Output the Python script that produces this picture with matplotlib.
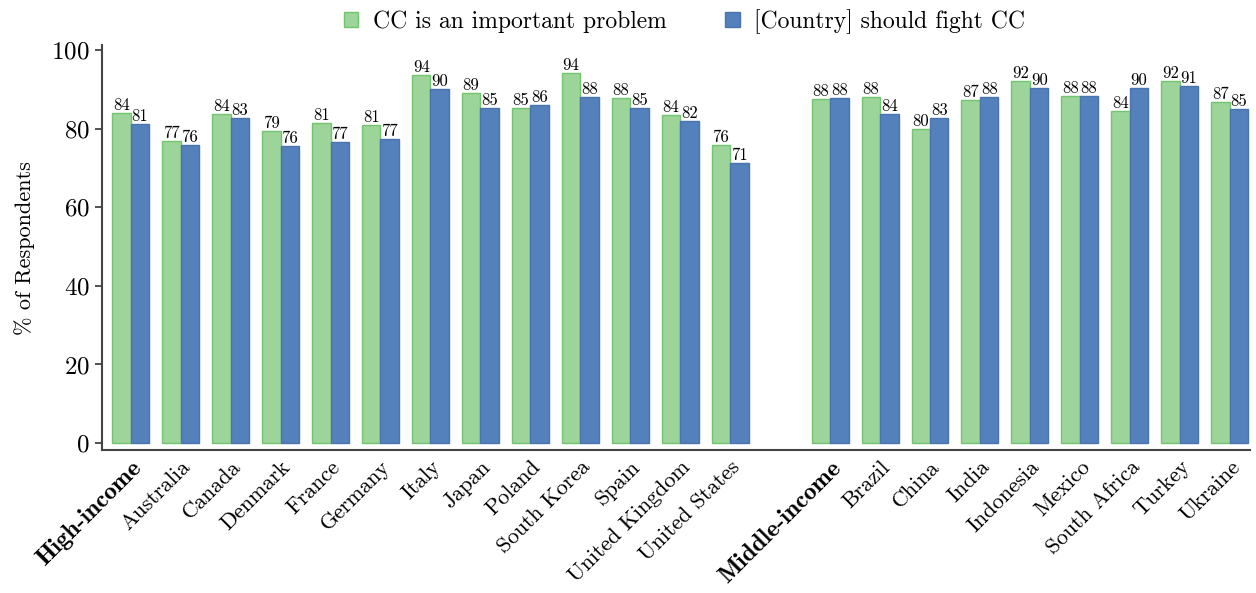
import matplotlib
matplotlib.use("Agg")
import matplotlib.pyplot as plt
import numpy as np

labels = ["High-income", "Australia", "Canada", "Denmark", "France", "Germany",
          "Italy", "Japan", "Poland", "South Korea", "Spain", "United Kingdom",
          "United States",
          "Middle-income", "Brazil", "China", "India", "Indonesia", "Mexico",
          "South Africa", "Turkey", "Ukraine"]
problem = [84.0, 76.8, 83.7, 79.4, 81.4, 80.9, 93.6, 89.1, 85.2, 94.1, 87.8, 83.5, 75.8,
           87.5, 88.0, 79.9, 87.3, 92.1, 88.3, 84.4, 92.1, 86.8]
fight = [81.2, 75.8, 82.7, 75.6, 76.6, 77.4, 90.1, 85.4, 86.0, 88.0, 85.2, 81.9, 71.2,
         87.8, 83.7, 82.7, 88.0, 90.3, 88.3, 90.4, 90.8, 85.0]
bold_labels = ["High-income", "Middle-income"]

plt.rcParams['font.family'] = "serif"
plt.rcParams['font.serif'] = ["cmr10"]
plt.rcParams['axes.formatter.use_mathtext'] = True

# one empty slot between the two groups
x = np.array(list(range(13)) + list(range(14, 23)))
w = 0.37

fig = plt.figure(figsize=(12.56, 5.93), dpi=100)
ax = fig.add_axes([0.081, 0.241, 0.914, 0.683])

b1 = ax.bar(x - w / 2, problem, w, color="#9dd49a", edgecolor="#72c46f", linewidth=1,
            label="CC is an important problem")
b2 = ax.bar(x + w / 2, fight, w, color="#5481bb", edgecolor="#4a74b0", linewidth=1,
            label="[Country] should fight CC")
ax.bar_label(b1, fmt="%.0f", fontsize=12, padding=0)
ax.bar_label(b2, fmt="%.0f", fontsize=12, padding=0)

ax.set_xlim(-0.58, 22.4)
ax.set_ylim(-1.8, 101.3)
ax.set_yticks([0, 20, 40, 60, 80, 100])
ax.set_xticks(x)
ax.set_xticklabels(labels, rotation=45, ha="right", rotation_mode="anchor", fontsize=16)
for t in ax.get_xticklabels():
    if t.get_text() in bold_labels:
        t.set_fontfamily("cmb10")
        t.set_fontsize(18)
ax.tick_params(axis="x", length=0, pad=5)
ax.tick_params(axis="y", labelsize=18, length=5, width=1.2, color="#333333")
ax.set_ylabel("% of Respondents", fontsize=16, labelpad=12)

for s in ["top", "right"]:
    ax.spines[s].set_visible(False)
for s in ["left", "bottom"]:
    ax.spines[s].set_color("#444444")
    ax.spines[s].set_linewidth(1.5)

fig.legend(handles=[b1, b2], loc="upper center", bbox_to_anchor=(0.545, 1.02), ncol=2,
           frameon=False, fontsize=17, handlelength=0.6, handleheight=0.6,
           columnspacing=2.5, handletextpad=0.6)

fig.savefig("out.png", dpi=100)
